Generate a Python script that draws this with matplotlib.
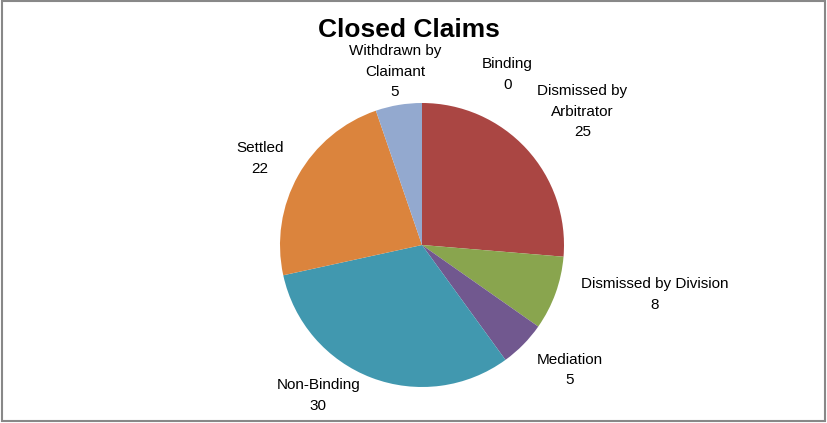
import numpy as np
import matplotlib.pyplot as plt

# Closed claims data
categories = ["Binding", "Dismissed by\nArbitrator", "Dismissed by Division", "Mediation",
              "Non-Binding", "Settled", "Withdrawn by\nClaimant"]
values = [0, 25, 8, 5, 30, 22, 5]
colors = ["#4572A7", "#AA4643", "#89A54E", "#71588F", "#4198AF", "#DB843D", "#93A9CF"]

# label anchor points, in units of pie radius from centre
label_pos = [(0.60, 1.20), (1.13, 0.94), (1.64, -0.35), (1.04, -0.88),
             (-0.73, -1.06), (-1.14, 0.61), (-0.19, 1.22)]

W, H = 827, 423
cx, cy, R = 422, 178, 142  # pie centre (from bottom) and radius in pixels

fig = plt.figure(figsize=(W / 100, H / 100), dpi=100)
ax = fig.add_axes([0, 0, 1, 1])

ax.pie(values, colors=colors, startangle=90, counterclock=False, radius=1,
       wedgeprops=dict(linewidth=0))

# pie() resets the limits, so set them afterwards
ax.set_xlim(-cx / R, (W - cx) / R)
ax.set_ylim(-cy / R, (H - cy) / R)
ax.set_aspect("equal")
ax.axis("off")

font = "Liberation Sans"
for name, v, (x, y) in zip(categories, values, label_pos):
    ax.text(x, y, f"{name}\n{v}", ha="center", va="center", fontsize=11,
            family=font, linespacing=1.6, color="#000000")

fig.text(0.494, 0.93, "Closed Claims", ha="center", va="center", fontsize=19,
         fontweight="bold", family=font)

# outer frame
fig.patches.append(plt.Rectangle((0.002, 0.004), 0.995, 0.993, transform=fig.transFigure,
                                 fill=False, edgecolor="#888888", linewidth=1.5))

fig.savefig("out.png", dpi=100)
